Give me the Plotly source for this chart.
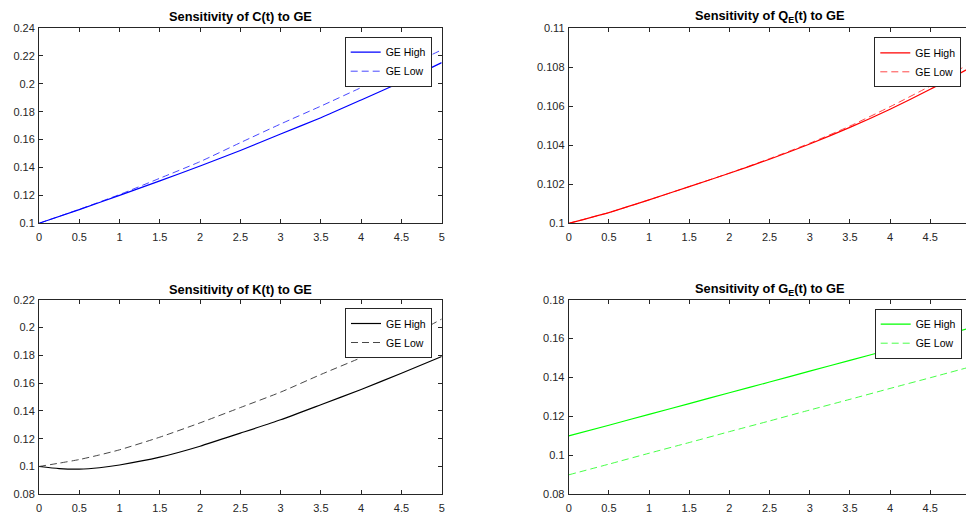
import plotly.graph_objects as go

# ---------------- data ----------------
t = [0, 0.5, 1, 1.5, 2, 2.5, 3, 3.5, 4, 4.5, 5]

c_high = [0.100, 0.1098, 0.1200, 0.1304, 0.1411, 0.1522, 0.1640, 0.1757, 0.1884, 0.2013, 0.2152]
c_low = [0.100, 0.1100, 0.1206, 0.1323, 0.1442, 0.1578, 0.1712, 0.1840, 0.1973, 0.2106, 0.2243]

qe_high = [0.1000, 0.10055, 0.10120, 0.10188, 0.10256, 0.10328, 0.10406, 0.10491, 0.10584, 0.10686, 0.10797]
qe_low = [0.1000, 0.10055, 0.10120, 0.10188, 0.10257, 0.10331, 0.10410, 0.10498, 0.10597, 0.10703, 0.10820]

k_t = [0, 0.25, 0.5, 0.75, 1, 1.5, 2, 2.5, 3, 3.5, 4, 4.5, 5]
k_high = [0.1000, 0.0985, 0.0981, 0.0991, 0.1011, 0.1067, 0.1146, 0.1240, 0.1336, 0.1444, 0.1554, 0.1671, 0.1791]
k_low = [0.1000, 0.1024, 0.1050, 0.1083, 0.1120, 0.1211, 0.1314, 0.1424, 0.1535, 0.1662, 0.1783, 0.1907, 0.2061]

ge_high = [0.1100, 0.1155, 0.1211, 0.1266, 0.1322, 0.1377, 0.1433, 0.1488, 0.1544, 0.1599, 0.1655]
ge_low = [0.0900, 0.0955, 0.1011, 0.1066, 0.1122, 0.1177, 0.1233, 0.1288, 0.1344, 0.1399, 0.1455]

x_ticks = [0, 0.5, 1, 1.5, 2, 2.5, 3, 3.5, 4, 4.5, 5]
x_labels = ["0", "0.5", "1", "1.5", "2", "2.5", "3", "3.5", "4", "4.5", "5"]
c_ticks = [0.1, 0.12, 0.14, 0.16, 0.18, 0.2, 0.22, 0.24]
c_labels = ["0.1", "0.12", "0.14", "0.16", "0.18", "0.2", "0.22", "0.24"]
qe_ticks = [0.1, 0.102, 0.104, 0.106, 0.108, 0.11]
qe_labels = ["0.1", "0.102", "0.104", "0.106", "0.108", "0.11"]
k_ticks = [0.08, 0.1, 0.12, 0.14, 0.16, 0.18, 0.2, 0.22]
k_labels = ["0.08", "0.1", "0.12", "0.14", "0.16", "0.18", "0.2", "0.22"]
ge_ticks = [0.08, 0.1, 0.12, 0.14, 0.16, 0.18]
ge_labels = ["0.08", "0.1", "0.12", "0.14", "0.16", "0.18"]

titles = ["<b>Sensitivity of C(t) to GE</b>",
          "<b>Sensitivity of Q<sub>E</sub>(t) to GE</b>",
          "<b>Sensitivity of K(t) to GE</b>",
          "<b>Sensitivity of G<sub>E</sub>(t) to GE</b>"]
series_names = ["GE High", "GE Low"]

# ---------------- layout geometry ----------------
W, H = 966, 514
AX = "#262626"
FONT = "Liberation Sans, Arial, sans-serif"

def px_x(v):
    return v / W

def px_y(v):
    return 1 - v / H

left_dom = [px_x(39), px_x(441.7)]
right_dom = [px_x(568.7), 1.0]
top_dom = [px_y(223.3), px_y(28)]
bot_dom = [px_y(494.3), px_y(299.7)]

fig = go.Figure()

panels = [
    (t, c_high, c_low, "#0000FF", "x", "y", "legend"),
    (t, qe_high, qe_low, "#FF0000", "x2", "y2", "legend2"),
    (k_t, k_high, k_low, "#000000", "x3", "y3", "legend3"),
    (t, ge_high, ge_low, "#00FF00", "x4", "y4", "legend4"),
]
for xs, hi, lo, col, xa, ya, lg in panels:
    fig.add_trace(go.Scatter(x=xs, y=hi, mode="lines", name=series_names[0],
                             line=dict(color=col, width=1.2, shape="spline", smoothing=0.6),
                             xaxis=xa, yaxis=ya, legend=lg))
    fig.add_trace(go.Scatter(x=xs, y=lo, mode="lines", name=series_names[1],
                             line=dict(color=col, width=0.9, dash="7px,4px", shape="spline", smoothing=0.6),
                             opacity=0.8,
                             xaxis=xa, yaxis=ya, legend=lg))

def xaxis(dom, anchor, rng):
    return dict(domain=dom, anchor=anchor, range=rng, tickvals=x_ticks, ticktext=x_labels,
                showline=True, linecolor=AX, linewidth=1, mirror="ticks",
                ticks="inside", ticklen=4, tickcolor=AX, tickwidth=1,
                showgrid=False, zeroline=False, automargin=False,
                tickfont=dict(family=FONT, size=11, color=AX), ticklabelstandoff=3)

def yaxis(dom, anchor, rng, tv, tt, mirror):
    return dict(domain=dom, anchor=anchor, range=rng, tickvals=tv, ticktext=tt,
                showline=True, linecolor=AX, linewidth=1, mirror=mirror,
                ticks="inside", ticklen=4, tickcolor=AX, tickwidth=1,
                showgrid=False, zeroline=False, automargin=False,
                tickfont=dict(family=FONT, size=11, color=AX), ticklabelstandoff=1)

right_max = 4.945

def legend(xr, yt):
    return dict(x=px_x(xr), y=px_y(yt), xanchor="right", yanchor="top",
                bgcolor="white", bordercolor=AX, borderwidth=1,
                font=dict(family=FONT, size=10.5, color="#000000"),
                itemwidth=30, tracegroupgap=0)

fig.update_layout(
    width=W, height=H, margin=dict(l=0, r=0, t=0, b=0),
    paper_bgcolor="white", plot_bgcolor="white", showlegend=True,
    font=dict(family=FONT, color=AX),
    xaxis=xaxis(left_dom, "y", [0, 5]),
    yaxis=yaxis(top_dom, "x", [0.1, 0.24], c_ticks, c_labels, "ticks"),
    xaxis2=xaxis(right_dom, "y2", [0, right_max]),
    yaxis2=yaxis(top_dom, "x2", [0.1, 0.11], qe_ticks, qe_labels, False),
    xaxis3=xaxis(left_dom, "y3", [0, 5]),
    yaxis3=yaxis(bot_dom, "x3", [0.08, 0.22], k_ticks, k_labels, "ticks"),
    xaxis4=xaxis(right_dom, "y4", [0, right_max]),
    yaxis4=yaxis(bot_dom, "x4", [0.08, 0.18], ge_ticks, ge_labels, False),
    legend=legend(431.7, 36.7),
    legend2=legend(961.3, 37.3),
    legend3=legend(432, 308),
    legend4=legend(961.7, 308.7),
)

title_pos = [((39 + 441.7) / 2, 17), ((568.7 + 970.5) / 2, 17),
             ((39 + 441.7) / 2, 289), ((568.7 + 970.5) / 2, 289)]
for txt, (cx, cy) in zip(titles, title_pos):
    fig.add_annotation(text=txt, x=px_x(cx), y=px_y(cy), xref="paper", yref="paper",
                       xanchor="center", yanchor="middle", showarrow=False,
                       font=dict(family=FONT, size=12.8, color="#000000"))

fig.write_html("out.html", config={"displayModeBar": False},
               post_script="document.body.style.margin='0';document.body.style.overflow='hidden';")
